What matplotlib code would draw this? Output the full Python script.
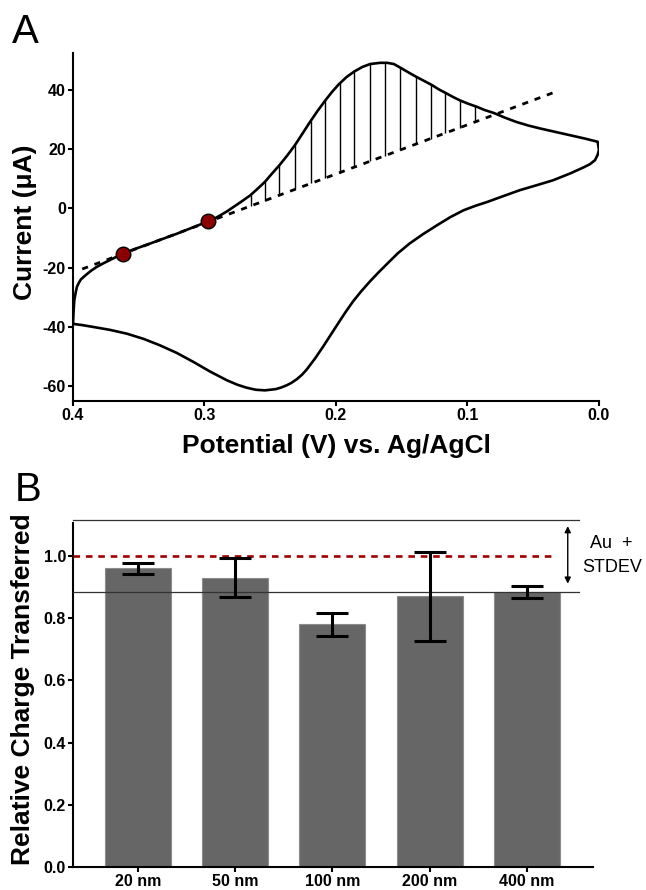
import numpy as np
import matplotlib
matplotlib.use('Agg')
import matplotlib.pyplot as plt

"""---------------------------Data-----------------------------------"""
# Panel A: cyclic voltammogram, potential (V vs Ag/AgCl) and current (uA)
# upper branch, from 0.4 V to 0.0 V
fwd_E = [0.400, 0.3997, 0.3993, 0.399, 0.398, 0.397, 0.3955, 0.394, 0.391, 0.386,
         0.382, 0.377, 0.372, 0.367, 0.362, 0.354, 0.345, 0.337, 0.329, 0.321,
         0.313, 0.305, 0.297, 0.292, 0.288, 0.283, 0.278, 0.272, 0.265, 0.260,
         0.254, 0.249, 0.243, 0.237, 0.231, 0.226, 0.220, 0.214, 0.208, 0.203,
         0.198, 0.192, 0.186, 0.180, 0.174, 0.1665, 0.161, 0.156, 0.150, 0.145,
         0.139, 0.133, 0.127, 0.122, 0.116, 0.111, 0.106, 0.100, 0.093, 0.087,
         0.080, 0.072, 0.063, 0.054, 0.045, 0.033, 0.022, 0.011, 0.001]
fwd_I = [-39.0, -36.0, -33.0, -31.0, -28.5, -26.5, -25.1, -24.0, -22.8, -21.0,
         -19.8, -18.6, -17.5, -16.4, -15.3, -13.9, -12.5, -11.2, -9.9, -8.6,
         -7.2, -5.8, -4.4, -3.4, -2.4, -1.1, 0.4, 2.2, 4.4, 6.4,
         8.9, 11.5, 14.5, 17.8, 21.4, 24.8, 28.9, 32.8, 36.4, 39.2,
         41.7, 44.2, 46.1, 47.6, 48.6, 49.0, 49.0, 48.6, 47.1, 45.8,
         44.3, 42.9, 41.5, 40.1, 38.7, 37.5, 36.4, 35.3, 34.2, 33.1,
         32.1, 30.6, 29.1, 27.9, 26.9, 25.7, 24.6, 23.5, 22.4]
# lower branch, from 0.0 V back to 0.4 V
rev_E = [0.000, 0.001, 0.003, 0.007, 0.012, 0.022, 0.035, 0.047, 0.060, 0.072,
         0.085, 0.094, 0.103, 0.113, 0.123, 0.134, 0.144, 0.153, 0.161, 0.168,
         0.174, 0.181, 0.187, 0.193, 0.1995, 0.2097, 0.216, 0.2223, 0.226, 0.230,
         0.234, 0.2375, 0.242, 0.246, 0.254, 0.261, 0.268, 0.275, 0.283, 0.296,
         0.3085, 0.321, 0.334, 0.346, 0.359, 0.372, 0.385, 0.393, 0.400]
rev_I = [19.6, 18.0, 16.2, 14.8, 13.7, 11.7, 9.4, 7.8, 6.1, 4.2,
         2.1, 0.8, -0.7, -3.0, -5.7, -8.8, -11.9, -15.2, -18.7, -21.8,
         -24.6, -28.1, -31.4, -35.2, -39.6, -46.6, -50.7, -54.4, -56.2, -57.7,
         -58.9, -59.7, -60.5, -61.0, -61.4, -61.2, -60.5, -59.5, -58.0, -55.0,
         -51.8, -48.8, -46.2, -44.1, -42.3, -41.0, -40.0, -39.4, -39.0]

# dashed baseline end points and the two red points it passes through
base_E = [0.393, 0.035]
base_I = [-20.5, 38.9]
dot_E = [0.362, 0.297]
dot_I = [-15.3, -4.4]

# potentials of the vertical hatch lines (charge area)
hatch_E = [0.265, 0.254, 0.243, 0.231, 0.219, 0.208, 0.197, 0.186,
           0.174, 0.163, 0.151, 0.139, 0.128, 0.117, 0.106, 0.094]

# Panel B: relative charge transferred
sizes = ['20 nm', '50 nm', '100 nm', '200 nm', '400 nm']
charge = [0.96, 0.93, 0.78, 0.87, 0.884]
charge_err = [0.019, 0.063, 0.037, 0.142, 0.019]
au_mean = 1.0
au_std = 0.117

"""---------------------------Style-----------------------------------"""
plt.rcParams['font.family'] = ['Liberation Sans', 'DejaVu Sans']
plt.rcParams['axes.unicode_minus'] = False

fig = plt.figure(figsize=(6.46, 8.9), dpi=100)

def style_axes(ax):
    for s in ['top', 'right']:
        ax.spines[s].set_visible(False)
    for s in ['left', 'bottom']:
        ax.spines[s].set_linewidth(1.5)
    ax.tick_params(width=1.5, length=3.6, labelsize=11.5, pad=1.5)
    for lab in ax.get_xticklabels() + ax.get_yticklabels():
        lab.set_fontweight('bold')

"""---------------------------Panel A-----------------------------------"""
axA = fig.add_axes([0.1130, 0.5494, 0.8142, 0.3910])

# hatch lines between baseline and the upper branch
bx = base_E[::-1]
by = base_I[::-1]
fx = fwd_E[::-1]
fy = fwd_I[::-1]
h_lo = np.interp(hatch_E, bx, by)
h_hi = np.interp(hatch_E, fx, fy)
axA.vlines(hatch_E, h_lo, h_hi, color='black', lw=1.0, zorder=2)

axA.plot(base_E, base_I, color='black', lw=2, linestyle=(0, (2.2, 2.5)), zorder=3)
axA.plot(fwd_E + rev_E, fwd_I + rev_I, color='black', lw=1.9, zorder=4,
         solid_joinstyle='round', solid_capstyle='round')
axA.plot(dot_E, dot_I, 'o', color='#8b0000', markeredgecolor='black',
         markeredgewidth=1, markersize=10.5, zorder=5)

axA.set_xlim(0.4, 0.0)
axA.set_ylim(-65, 52.3)
axA.set_xticks([0.4, 0.3, 0.2, 0.1, 0.0])
axA.set_xticklabels(['0.4', '0.3', '0.2', '0.1', '0.0'])
axA.set_yticks([-60, -40, -20, 0, 20, 40])
style_axes(axA)
axA.set_xlabel('Potential (V) vs. Ag/AgCl', fontsize=19, fontweight='bold')
axA.set_ylabel('Current (\u03bcA)', fontsize=19, fontweight='bold')
axA.xaxis.set_label_coords(0.5, -0.094)
axA.yaxis.set_label_coords(-0.0684, 0.514)

"""---------------------------Panel B-----------------------------------"""
axB = fig.add_axes([0.1130, 0.02584, 0.8050, 0.3865])
pos = np.arange(len(sizes))

axB.bar(pos, charge, width=0.68, color='#666666', edgecolor='#8c8c8c',
        linewidth=0.8, zorder=2)
axB.errorbar(pos, charge, yerr=charge_err, fmt='none', ecolor='black',
             elinewidth=2.2, capsize=11.5, capthick=2.2, zorder=4)

# Au reference +/- STDEV band
axB.plot([-0.668, 4.535], [au_mean + au_std] * 2, color='#333333', lw=0.9,
         clip_on=False, zorder=3)
axB.plot([-0.668, 4.535], [au_mean - au_std] * 2, color='#333333', lw=0.9,
         clip_on=False, zorder=3)
axB.plot([-0.668, 4.29], [au_mean] * 2, color='#a00000', lw=1.9,
         linestyle=(0, (2.5, 2.2)), zorder=3)
axB.annotate('', xy=(4.42, au_mean + au_std - 0.021), xytext=(4.42, au_mean - au_std + 0.028),
             arrowprops=dict(arrowstyle='<|-|>', color='black', lw=1.0,
                             mutation_scale=9, shrinkA=0, shrinkB=0),
             annotation_clip=False)
fig.text(0.946, 1 - 543 / 890, 'Au  +', ha='center', va='center', fontsize=13)
fig.text(0.948, 1 - 567 / 890, 'STDEV', ha='center', va='center', fontsize=13)

axB.set_xlim(-0.668, 4.68)
axB.set_ylim(0, 1.106)
axB.set_xticks(pos)
axB.set_xticklabels(sizes)
axB.set_yticks([0.0, 0.2, 0.4, 0.6, 0.8, 1.0])
axB.set_yticklabels(['0.0', '0.2', '0.4', '0.6', '0.8', '1.0'])
style_axes(axB)
axB.set_ylabel('Relative Charge Transferred', fontsize=19, fontweight='bold')
axB.yaxis.set_label_coords(-0.0731, 0.517)

# panel letters
fig.text(12 / 646, 1 - 43 / 890, 'A', fontsize=29, va='baseline', ha='left')
fig.text(15 / 646, 1 - 501 / 890, 'B', fontsize=29, va='baseline', ha='left')

plt.savefig('out.png', dpi=100)
